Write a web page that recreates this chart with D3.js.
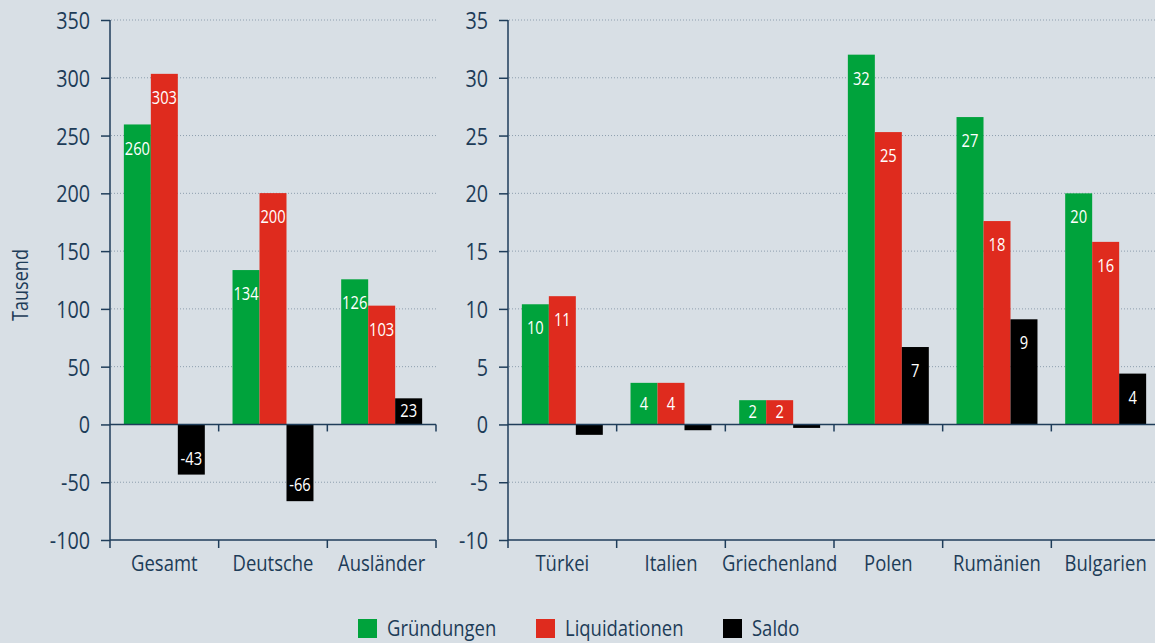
<!DOCTYPE html>
<html>
<head>
<meta charset="utf-8">
<script src="https://cdn.jsdelivr.net/npm/d3@7"></script>
<style>
  body { margin: 0; background: #d8dfe5; }
  svg text { font-family: "Open Sans", "Noto Sans", sans-serif; fill: #1d3c58; }
</style>
</head>
<body>
<svg id="chart" width="1155" height="643"></svg>
<script>
// Series and colours
const series = ["Gründungen", "Liquidationen", "Saldo"];
const seriesColors = ["#00a33c", "#df2b1e", "#000000"];

// Left panel (Tausend)
const leftCats = ["Gesamt", "Deutsche", "Ausländer"];
const leftGruendungen = [259.6, 133.6, 125.6];
const leftLiquidationen = [303.4, 200.2, 102.8];
const leftSaldo = [-43.4, -66.4, 22.6];
const leftTicks = [-100, -50, 0, 50, 100, 150, 200, 250, 300, 350];

// Right panel
const rightCats = ["Türkei", "Italien", "Griechenland", "Polen", "Rumänien", "Bulgarien"];
const rightGruendungen = [10.4, 3.6, 2.1, 32.0, 26.6, 20.0];
const rightLiquidationen = [11.1, 3.6, 2.1, 25.3, 17.6, 15.8];
const rightSaldo = [-0.9, -0.5, -0.3, 6.7, 9.1, 4.4];
const rightTicks = [-10, -5, 0, 5, 10, 15, 20, 25, 30, 35];

const plotTop = 20, plotBottom = 540;
const axisColor = "#1f3d5a";
const squeezeK = 0.84; // narrow the font, the original uses a condensed face

let svg = d3.select("#chart");

// horizontally condense text elements (keeps x position)
function squeeze(sel) {
    sel.each(function() {
        let t = d3.select(this);
        let x = +t.attr("x") || 0;
        t.attr("x", x / squeezeK).attr("transform", "scale(" + squeezeK + ",1)");
    });
}

function drawPanel(cats, values, ticks, xRange, gridEnd) {
    let y = d3.scaleLinear()
        .domain([ticks[0], ticks[ticks.length - 1]])
        .range([plotBottom, plotTop]);
    let x0 = d3.scaleBand()
        .domain(cats)
        .range(xRange)
        .paddingInner(0.255)
        .paddingOuter(0.1275);
    let x1 = d3.scaleBand()
        .domain(series)
        .range([0, x0.bandwidth()]);

    let g = svg.append("g");

    // dotted grid lines
    g.append("g").selectAll("line")
        .data(ticks.filter(t => t !== 0 && t !== ticks[0]))
        .enter().append("line")
        .attr("x1", xRange[0] + 1)
        .attr("x2", gridEnd)
        .attr("y1", d => y(d))
        .attr("y2", d => y(d))
        .attr("stroke", "#8d9eae")
        .attr("stroke-width", 1)
        .attr("stroke-dasharray", "1,2");

    // bars
    let rows = cats.map((c, i) => series.map((s, j) => ({cat: c, key: s, value: values[j][i], idx: j})));
    let groups = g.append("g").selectAll("g")
        .data(rows)
        .enter().append("g")
        .attr("transform", (d, i) => "translate(" + x0(cats[i]) + ",0)");

    groups.selectAll("rect")
        .data(d => d)
        .enter().append("rect")
        .attr("x", d => x1(d.key))
        .attr("width", x1.bandwidth())
        .attr("y", d => y(Math.max(0, d.value)))
        .attr("height", d => Math.abs(y(d.value) - y(0)))
        .attr("fill", d => seriesColors[d.idx]);

    // value labels inside bars
    groups.selectAll("text")
        .data(d => d.filter(v => Math.abs(y(v.value) - y(0)) >= 20))
        .enter().append("text")
        .attr("x", d => x1(d.key) + x1.bandwidth() / 2)
        .attr("y", function(d) {
            let h = Math.abs(y(d.value) - y(0));
            if (d.value >= 0) return y(d.value) + Math.min(24, h / 2);
            return y(d.value) - Math.min(16, h / 2);
        })
        .attr("dy", "0.35em")
        .attr("text-anchor", "middle")
        .style("fill", "#ffffff")
        .style("font-size", "17.5px")
        .text(d => String(Math.round(d.value)))
        .call(squeeze);

    // y axis
    let yAxis = g.append("g")
        .attr("transform", "translate(" + xRange[0] + ",0)")
        .call(d3.axisLeft(y).tickValues(ticks).tickFormat(d => String(d)).tickSize(9).tickPadding(11));
    yAxis.selectAll("path, line").attr("stroke", axisColor).attr("stroke-width", 1.5);
    yAxis.select(".domain").attr("d", "M0," + plotTop + "V" + plotBottom);
    yAxis.selectAll("text")
        .style("font-size", "23.5px").style("font-family", null)
        .attr("dy", "0.36em")
        .call(squeeze);

    // zero line with boundary ticks
    let bounds = cats.map(c => x0(c) - x0.step() * x0.paddingInner() / 2).concat([xRange[1]]);
    g.append("line")
        .attr("x1", xRange[0]).attr("x2", Math.min(xRange[1], 1155))
        .attr("y1", y(0)).attr("y2", y(0))
        .attr("stroke", axisColor).attr("stroke-width", 1.5);
    g.append("g").selectAll("line")
        .data(bounds.slice(1))
        .enter().append("line")
        .attr("x1", d => d).attr("x2", d => d)
        .attr("y1", y(0)).attr("y2", y(0) + 7)
        .attr("stroke", axisColor).attr("stroke-width", 1.5);

    // bottom axis with category labels
    g.append("line")
        .attr("x1", xRange[0]).attr("x2", Math.min(xRange[1], 1155))
        .attr("y1", plotBottom).attr("y2", plotBottom)
        .attr("stroke", axisColor).attr("stroke-width", 1.5);
    g.append("g").selectAll("line")
        .data(bounds)
        .enter().append("line")
        .attr("x1", d => d).attr("x2", d => d)
        .attr("y1", plotBottom).attr("y2", plotBottom + 8)
        .attr("stroke", axisColor).attr("stroke-width", 1.5);
    g.append("g").selectAll("text")
        .data(cats)
        .enter().append("text")
        .attr("x", d => x0(d) + x0.bandwidth() / 2)
        .attr("y", 571)
        .attr("text-anchor", "middle")
        .style("font-size", "22px")
        .text(d => d)
        .call(squeeze);
}

drawPanel(leftCats, [leftGruendungen, leftLiquidationen, leftSaldo], leftTicks, [110, 436], 438);
drawPanel(rightCats, [rightGruendungen, rightLiquidationen, rightSaldo], rightTicks, [508, 1160], 1155);

// y axis title
svg.append("text")
    .attr("transform", "translate(28,285) rotate(-90) scale(" + squeezeK + ",1)")
    .attr("text-anchor", "middle")
    .style("font-size", "21.5px")
    .text("Tausend");

// Legend
let legendX = [358, 536, 723];
let legend = svg.append("g").selectAll("g")
    .data(series)
    .enter().append("g")
    .attr("transform", (d, i) => "translate(" + legendX[i] + ",619)");
legend.append("rect")
    .attr("width", 19).attr("height", 19)
    .attr("fill", (d, i) => seriesColors[i]);
legend.append("text")
    .attr("x", 29).attr("y", 17)
    .style("font-size", "22px")
    .text(d => d)
    .call(squeeze);
</script>
</body>
</html>
